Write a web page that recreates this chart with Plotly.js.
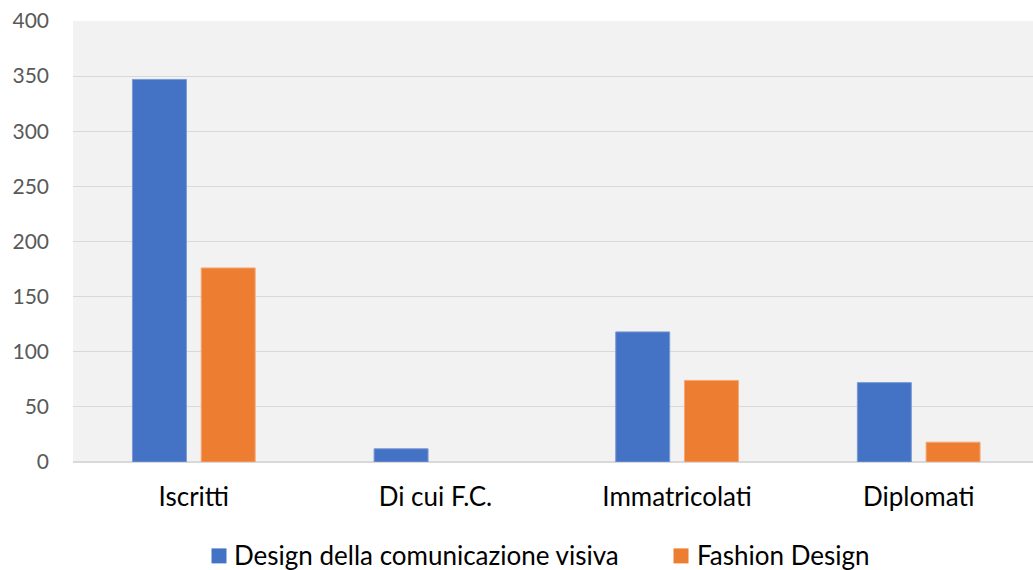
<!DOCTYPE html>
<html>
<head>
<meta charset="utf-8">
<script src="https://cdn.plot.ly/plotly-3.0.1.min.js"></script>
<style>
  html, body { margin: 0; padding: 0; background: #ffffff; overflow: hidden; }
  #chart { width: 1033px; height: 570px; }
</style>
</head>
<body>
<div id="chart"></div>
<script>
const categories = ["Iscritti", "Di cui F.C.", "Immatricolati", "Diplomati"];
const seriesNames = ["Design della comunicazione visiva", "Fashion Design"];
const designComunicazione = [347, 12, 118, 72];
const fashionDesign = [176, 0, 74, 18];
const yTicks = [0, 50, 100, 150, 200, 250, 300, 350, 400];
const seriesColors = ["#4472c4", "#ed7d31"];
const seriesEdges = ["#7b9ad6", "#f4a877"];

const FONT = "Lato, 'Open Sans', 'Liberation Sans', sans-serif";

// plot area geometry (pixels)
const W = 1033, H = 570;
const M = { l: 73, r: 0, t: 21, b: 107.5 };
const PW = W - M.l - M.r, PH = H - M.t - M.b;
const px2x = p => (p - M.l) / PW;
const py2y = p => (H - M.b - p) / PH;

const allSeries = [designComunicazione, fashionDesign];
const traces = allSeries.map((vals, i) => ({
  type: "bar",
  name: seriesNames[i],
  x: categories,
  y: vals,
  marker: {
    color: seriesColors[i],
    line: { color: seriesEdges[i], width: vals.map(v => (v > 0 ? 1 : 0)) }
  },
  hoverinfo: "skip",
  showlegend: false
}));

// custom legend (square swatch + label), positioned like the reference
const legendItems = [
  { sq: [211.5, 226.5], textX: 232 },
  { sq: [673.5, 688.5], textX: 695 }
];
const legendTop = 549, legendBottom = 564;
const shapes = legendItems.map((it, i) => ({
  type: "rect",
  xref: "paper", yref: "paper",
  x0: px2x(it.sq[0]), x1: px2x(it.sq[1]),
  y0: py2y(legendBottom), y1: py2y(legendTop),
  fillcolor: seriesColors[i],
  line: { width: 0 }
}));
const annotations = legendItems.map((it, i) => ({
  xref: "paper", yref: "paper",
  x: px2x(it.textX), y: py2y(556),
  xanchor: "left", yanchor: "middle",
  showarrow: false,
  text: seriesNames[i],
  font: { family: FONT, size: 26, color: "#000000" }
}));

const layout = {
  width: W,
  height: H,
  margin: { l: M.l, r: M.r, t: M.t, b: M.b, autoexpand: false },
  paper_bgcolor: "#ffffff",
  plot_bgcolor: "#f2f2f2",
  barmode: "group",
  bargap: 0.431,
  bargroupgap: 0.215,
  font: { family: FONT, size: 21, color: "#595959" },
  xaxis: {
    type: "category",
    range: [-0.5, 3.473],
    showgrid: false,
    zeroline: false,
    showline: false,
    ticks: "",
    ticklabelstandoff: 17,
    tickfont: { family: FONT, size: 26, color: "#000000" },
    fixedrange: true
  },
  yaxis: {
    range: [0, 400],
    tickvals: yTicks,
    ticktext: yTicks.map(String),
    showgrid: true,
    gridcolor: "#d9d9d9",
    gridwidth: 1,
    zeroline: true,
    zerolinecolor: "#d9d9d9",
    zerolinewidth: 2,
    showline: false,
    ticks: "",
    ticklabelstandoff: 23,
    tickfont: { family: FONT, size: 21, color: "#595959" },
    fixedrange: true
  },
  showlegend: false,
  shapes: shapes,
  annotations: annotations
};

Plotly.newPlot("chart", traces, layout, { displayModeBar: false, staticPlot: true });
</script>
</body>
</html>
